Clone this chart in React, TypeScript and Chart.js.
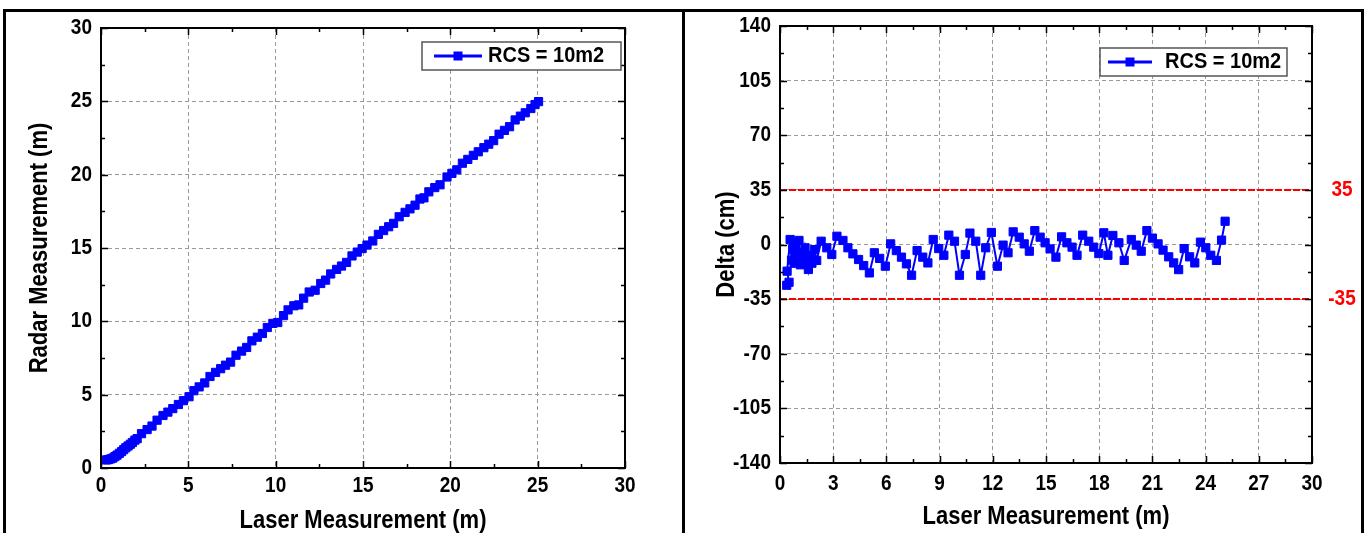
import React, { useEffect, useRef } from "react";
import { Chart, registerables } from "chart.js";

Chart.register(...registerables);

const FONT = '"Liberation Sans", Arial, Helvetica, sans-serif';
const BLUE = "#0000ff";
const RED = "#ff0000";

const seriesLabel = "RCS = 10m2";

// Right panel: laser distance (m) and delta (cm)
const laserM = [
  0.38, 0.51, 0.40, 0.57, 0.65, 0.72, 0.80, 0.88, 0.96, 1.07, 1.15, 1.22, 1.30, 1.41, 1.50, 1.60, 1.70, 1.80, 1.94, 2.07,
  2.32, 2.64, 2.92, 3.21, 3.55, 3.83, 4.11, 4.43, 4.72, 5.04, 5.32, 5.62, 5.94, 6.24, 6.56, 6.85, 7.13, 7.42, 7.73, 8.05,
  8.34, 8.64, 8.95, 9.24, 9.52, 9.84, 10.12, 10.45, 10.71, 11.04, 11.32, 11.60, 11.92, 12.26, 12.58, 12.86, 13.15, 13.49,
  13.77, 14.06, 14.37, 14.67, 14.95, 15.23, 15.56, 15.88, 16.18, 16.47, 16.75, 17.07, 17.41, 17.69, 17.98, 18.26, 18.49,
  18.77, 19.11, 19.41, 19.81, 20.09, 20.37, 20.69, 21.00, 21.32, 21.60, 21.92, 22.20, 22.48, 22.79, 23.10, 23.39, 23.71,
  24.01, 24.29, 24.61, 24.90, 25.10,
];
const deltaCm = [
  -26.1, -24.2, -17.1, 3.2, -10, -3, -12, 1, -8, 2.6, -13, -5, -11, -2.1, -9, -16, -7, -12, -3.3, -10.2,
  2.1, -2.1, -6.4, 5.3, 2.6, -2.1, -6, -9.6, -13.5, -18.2, -5.3, -8.9, -13.9, 0.4, -3.9, -8.1, -12.4, -19.7, -3.9, -8.1,
  -11.8, 3.2, -2.6, -6.9, 6.0, 2.1, -19.7, -6.4, 7.3, 2.1, -19.7, -2.1, 7.7, -13.9, -0.4, -5.3, 8.1, 4.7,
  0.4, -4.3, 8.9, 4.7, 1.1, -2.8, -8.1, 4.9, 1.1, -1.7, -6.9, 6.0, 2.1, -1.7, -5.8, 7.5, -6.9,
  5.8, 1.1, -10.2, 3.2, -0.4, -4.3, 8.9, 4.1, 0.4, -3.6, -7.9, -11.8, -16.1, -2.6, -7.9, -11.8, 1.5,
  -2.1, -6.9, -10.2, 2.8, 14.9,
];

// Left panel: laser distance (m) vs radar distance (m)
const leftLaser = [
  0.30, 0.42, 0.55, 0.68, 0.80, 0.92, 1.05, 1.18, 1.30, 1.42, 1.55, 1.68, 1.80, 1.94, 2.07,
  2.32, 2.64, 2.92, 3.21, 3.55, 3.83, 4.11, 4.43, 4.72, 5.04, 5.32, 5.62, 5.94, 6.24, 6.56, 6.85, 7.13, 7.42, 7.73, 8.05,
  8.34, 8.64, 8.95, 9.24, 9.52, 9.84, 10.12, 10.45, 10.71, 11.04, 11.32, 11.60, 11.92, 12.26, 12.58, 12.86, 13.15, 13.49,
  13.77, 14.06, 14.37, 14.67, 14.95, 15.23, 15.56, 15.88, 16.18, 16.47, 16.75, 17.07, 17.41, 17.69, 17.98, 18.26, 18.49,
  18.77, 19.11, 19.41, 19.81, 20.09, 20.37, 20.69, 21.00, 21.32, 21.60, 21.92, 22.20, 22.48, 22.79, 23.10, 23.39, 23.71,
  24.01, 24.29, 24.61, 24.85, 25.05,
];
const leftRadar = [
  0.55, 0.57, 0.62, 0.68, 0.78, 0.88, 1.00, 1.12, 1.25, 1.38, 1.50, 1.62, 1.74, 1.90, 2.00,
  2.34, 2.62, 2.86, 3.26, 3.58, 3.81, 4.05, 4.33, 4.59, 4.86, 5.27, 5.53, 5.80, 6.24, 6.52, 6.77, 7.01, 7.22, 7.69, 7.97,
  8.22, 8.67, 8.92, 9.17, 9.58, 9.86, 9.92, 10.39, 10.78, 11.06, 11.12, 11.58, 12.00, 12.12, 12.58, 12.81, 13.23, 13.54,
  13.77, 14.02, 14.46, 14.72, 14.96, 15.20, 15.48, 15.93, 16.19, 16.45, 16.68, 17.13, 17.43, 17.67, 17.92, 18.34, 18.42,
  18.83, 19.12, 19.31, 19.84, 20.09, 20.33, 20.78, 21.04, 21.32, 21.56, 21.84, 22.08, 22.32, 22.76, 23.02, 23.27, 23.73,
  23.99, 24.22, 24.51, 24.78, 24.98,
];

const leftXTicks = [0, 5, 10, 15, 20, 25, 30];
const leftYTicks = [0, 5, 10, 15, 20, 25, 30];
const rightXTicks = [0, 3, 6, 9, 12, 15, 18, 21, 24, 27, 30];
const rightYTicks = [-140, -105, -70, -35, 0, 35, 70, 105, 140];
const limitValues = [35, -35];

type PanelCfg = {
  xs: number[];
  ys: number[];
  xTicks: number[];
  yTicks: number[];
  xMinorStep: number;
  yMinorStep: number;
  pad: { left: number; right: number; top: number; bottom: number };
  xTitle: string;
  yTitle: string;
  yTitleX: number;
  xLabelY: number;
  xTitleY: number;
  legend: { x1: number; y1: number; x2: number; y2: number; lx1: number; lx2: number; tx: number };
  limits?: number[];
  limitLabelX?: number;
};

function drawText(
  ctx: CanvasRenderingContext2D,
  s: string,
  x: number,
  y: number,
  size: number,
  align: CanvasTextAlign,
  color = "#000",
  sy = 1.13,
  rot = 0
) {
  ctx.save();
  ctx.translate(x, y);
  if (rot) ctx.rotate(rot);
  ctx.scale(1, sy);
  ctx.font = `bold ${size}px ${FONT}`;
  ctx.fillStyle = color;
  ctx.textAlign = align;
  ctx.textBaseline = "middle";
  ctx.fillText(s, 0, 0);
  ctx.restore();
}

function makeChart(canvas: HTMLCanvasElement, cfg: PanelCfg) {
  const xMin = cfg.xTicks[0];
  const xMax = cfg.xTicks[cfg.xTicks.length - 1];
  const yMin = cfg.yTicks[0];
  const yMax = cfg.yTicks[cfg.yTicks.length - 1];

  const plugin = {
    id: "panelDecor",
    beforeDatasetsDraw(chart: any) {
      const { ctx, chartArea: a, scales } = chart;
      if (cfg.limits) {
        ctx.save();
        ctx.strokeStyle = RED;
        ctx.lineWidth = 2;
        ctx.setLineDash([7, 2]);
        cfg.limits.forEach((v) => {
          const py = Math.round(scales.y.getPixelForValue(v));
          ctx.beginPath();
          ctx.moveTo(a.left, py);
          ctx.lineTo(a.right, py);
          ctx.stroke();
        });
        ctx.restore();
      }
    },
    afterDatasetsDraw(chart: any) {
      const { ctx, chartArea: a, scales } = chart;
      const sx = scales.x;
      const sy = scales.y;
      ctx.save();
      ctx.setLineDash([]);
      ctx.strokeStyle = "#000";
      ctx.lineWidth = 1.5;
      const xMinor: number[] = [];
      for (let v = xMin; v <= xMax + 1e-9; v += cfg.xMinorStep) xMinor.push(v);
      const yMinor: number[] = [];
      for (let v = yMin; v <= yMax + 1e-9; v += cfg.yMinorStep) yMinor.push(v);
      ctx.beginPath();
      xMinor.forEach((v) => {
        const major = cfg.xTicks.some((t) => Math.abs(t - v) < 1e-6);
        const len = major ? 7 : 4;
        const px = Math.round(sx.getPixelForValue(v)) + 0.5;
        ctx.moveTo(px, a.bottom);
        ctx.lineTo(px, a.bottom - len);
        ctx.moveTo(px, a.top);
        ctx.lineTo(px, a.top + len);
      });
      yMinor.forEach((v) => {
        const major = cfg.yTicks.some((t) => Math.abs(t - v) < 1e-6);
        const len = major ? 7 : 4;
        const py = Math.round(sy.getPixelForValue(v)) + 0.5;
        ctx.moveTo(a.left, py);
        ctx.lineTo(a.left + len, py);
        ctx.moveTo(a.right, py);
        ctx.lineTo(a.right - len, py);
      });
      ctx.stroke();
      ctx.lineWidth = 2;
      ctx.strokeRect(a.left, a.top, a.right - a.left, a.bottom - a.top);
      ctx.restore();

      cfg.xTicks.forEach((v) => {
        drawText(ctx, String(v), sx.getPixelForValue(v), cfg.xLabelY, 19, "center");
      });
      cfg.yTicks.forEach((v) => {
        drawText(ctx, String(v), a.left - 9, sy.getPixelForValue(v), 19, "right");
      });
      drawText(ctx, cfg.xTitle, (a.left + a.right) / 2, cfg.xTitleY, 22, "center");
      drawText(ctx, cfg.yTitle, cfg.yTitleX, (a.top + a.bottom) / 2, 22, "center", "#000", 1.13, -Math.PI / 2);

      if (cfg.limits && cfg.limitLabelX !== undefined) {
        cfg.limits.forEach((v) => {
          drawText(ctx, String(v), cfg.limitLabelX as number, sy.getPixelForValue(v), 19, "center", RED);
        });
      }

      const L = cfg.legend;
      ctx.save();
      ctx.fillStyle = "#fff";
      ctx.fillRect(L.x1, L.y1, L.x2 - L.x1, L.y2 - L.y1);
      ctx.strokeStyle = "#555";
      ctx.lineWidth = 1.5;
      ctx.strokeRect(L.x1, L.y1, L.x2 - L.x1, L.y2 - L.y1);
      const cy = (L.y1 + L.y2) / 2;
      ctx.strokeStyle = BLUE;
      ctx.lineWidth = 3;
      ctx.beginPath();
      ctx.moveTo(L.lx1, cy);
      ctx.lineTo(L.lx2, cy);
      ctx.stroke();
      ctx.fillStyle = BLUE;
      const mx = (L.lx1 + L.lx2) / 2;
      ctx.fillRect(mx - 4.5, cy - 4.5, 9, 9);
      ctx.restore();
      drawText(ctx, seriesLabel, L.tx, cy, 20, "left", "#000", 1.1);
    },
  };

  const data = cfg.xs.map((x, i) => ({ x, y: cfg.ys[i] }));

  return new Chart(canvas, {
    type: "line",
    data: {
      datasets: [
        {
          data,
          borderColor: BLUE,
          backgroundColor: BLUE,
          borderWidth: 2,
          pointStyle: "rect",
          pointRadius: 5.8,
          pointBorderWidth: 1,
          pointBorderColor: BLUE,
          pointBackgroundColor: BLUE,
          tension: 0,
          fill: false,
        },
      ],
    },
    options: {
      animation: false,
      responsive: false,
      events: [],
      layout: { padding: { left: 0, right: cfg.pad.right, top: cfg.pad.top, bottom: 0 } },
      plugins: { legend: { display: false }, tooltip: { enabled: false } },
      scales: {
        x: {
          type: "linear",
          min: xMin,
          max: xMax,
          ticks: { display: false, stepSize: cfg.xTicks[1] - cfg.xTicks[0] },
          grid: { color: "#9a9a9a", lineWidth: 1, drawTicks: false },
          border: { display: false, dash: [4, 3] },
          afterFit: (s: any) => {
            s.height = cfg.pad.bottom;
          },
        },
        y: {
          type: "linear",
          min: yMin,
          max: yMax,
          ticks: { display: false, stepSize: cfg.yTicks[1] - cfg.yTicks[0] },
          grid: { color: "#9a9a9a", lineWidth: 1, drawTicks: false },
          border: { display: false, dash: [4, 3] },
          afterFit: (s: any) => {
            s.width = cfg.pad.left;
          },
        },
      },
    } as any,
    plugins: [plugin],
  });
}

export default function App() {
  const leftRef = useRef<HTMLCanvasElement | null>(null);
  const rightRef = useRef<HTMLCanvasElement | null>(null);

  useEffect(() => {
    if (!leftRef.current || !rightRef.current) return;
    const c1 = makeChart(leftRef.current, {
      xs: leftLaser,
      ys: leftRadar,
      xTicks: leftXTicks,
      yTicks: leftYTicks,
      xMinorStep: 2.5,
      yMinorStep: 2.5,
      pad: { left: 101, right: 683 - 625, top: 28, bottom: 533 - 468 },
      xTitle: "Laser Measurement (m)",
      yTitle: "Radar Measurement (m)",
      yTitleX: 40,
      xLabelY: 486,
      xTitleY: 521,
      legend: { x1: 422, y1: 42, x2: 621, y2: 70, lx1: 434, lx2: 482, tx: 488 },
    });
    const c2 = makeChart(rightRef.current, {
      xs: laserM,
      ys: deltaCm,
      xTicks: rightXTicks,
      yTicks: rightYTicks,
      xMinorStep: 1.5,
      yMinorStep: 17.5,
      pad: { left: 97, right: 683 - 629, top: 26, bottom: 533 - 463 },
      xTitle: "Laser Measurement (m)",
      yTitle: "Delta (cm)",
      yTitleX: 44,
      xLabelY: 484,
      xTitleY: 517,
      legend: { x1: 417, y1: 48, x2: 604, y2: 76, lx1: 425, lx2: 469, tx: 482 },
      limits: limitValues,
      limitLabelX: 659,
    });
    return () => {
      c1.destroy();
      c2.destroy();
    };
  }, []);

  return (
    <div
      style={{
        position: "fixed",
        left: 0,
        top: 0,
        width: 1366,
        height: 533,
        background: "#fff",
        overflow: "hidden",
      }}
    >
      <canvas
        ref={leftRef}
        width={683}
        height={533}
        style={{ position: "absolute", left: 0, top: 0, width: 683, height: 533 }}
      />
      <canvas
        ref={rightRef}
        width={683}
        height={533}
        style={{ position: "absolute", left: 683, top: 0, width: 683, height: 533 }}
      />
      <div
        style={{
          position: "absolute",
          left: 3,
          top: 9,
          width: 1361,
          height: 524,
          boxSizing: "border-box",
          borderTop: "3px solid #000",
          borderLeft: "3px solid #000",
          borderRight: "3px solid #000",
        }}
      />
      <div style={{ position: "absolute", left: 682, top: 9, width: 3, height: 524, background: "#000" }} />
    </div>
  );
}
